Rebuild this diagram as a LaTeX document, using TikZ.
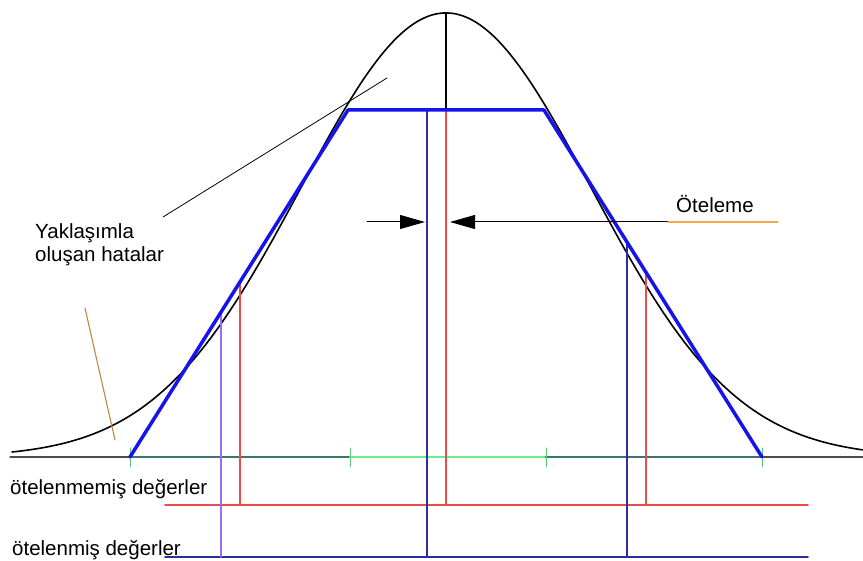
\documentclass[tikz,border=0pt]{standalone}
\usepackage{fontspec}
\setmainfont{Liberation Sans}
\usetikzlibrary{arrows.meta}
\usepackage{xcolor}
\definecolor{trapblue}{RGB}{20,20,235}
\definecolor{navyline}{RGB}{45,45,155}
\definecolor{redline}{RGB}{235,75,75}
\definecolor{violetline}{RGB}{150,110,250}
\definecolor{tealline}{RGB}{60,115,115}
\definecolor{greenline}{RGB}{110,235,140}
\definecolor{brownline}{RGB}{190,135,70}
\definecolor{orangeline}{RGB}{240,170,80}

\begin{document}
\begin{tikzpicture}[x=1pt,y=-1pt,>={Triangle[length=25pt,width=14pt]},font=\fontsize{20.5}{24}\selectfont,line cap=round,
  lbl/.style={inner sep=0pt,anchor=base west},
  tick/.style={greenline!85!black,line width=1pt}]
\useasboundingbox (0,0) rectangle (863,561);
\coordinate (L0) at (130,457);
\coordinate (L1) at (348,110);
\coordinate (R1) at (544,110);
\coordinate (R0) at (762,457);
\coordinate (top) at (446,13);
\coordinate (mid) at (446,110);
\draw[gray!60!black,line width=1.3pt] (10,457) -- (863,457);
\draw[tealline,line width=2.6pt] (L0) -- (350,457);
\draw[greenline,line width=2.6pt] (350,457) -- (546,457);
\draw[tealline,line width=2.6pt] (546,457) -- (R0);
\draw[tick] (130,448) -- (130,467);
\draw[tick] (350,448) -- (350,467);
\draw[tick] (546,448) -- (546,467);
\draw[tick] (762,448) -- (762,467);
\draw[black,line width=1.6pt] plot[domain=12:863,samples=220,smooth] (\x,{457-444*exp(-0.5*(((\x-446)/145)^2))});
\draw[redline,line width=1.6pt] (165,505) -- (808,505);
\draw[navyline,line width=1.6pt] (165,557) -- (808,557);
\draw[violetline,line width=1.2pt] (221,312) -- (221,557);
\draw[redline,line width=1.2pt] (240,282) -- (240,505);
\draw[navyline,line width=1.2pt] (427,110) -- (427,557);
\draw[redline,line width=1.2pt] (mid) -- (446,505);
\draw[navyline,line width=1.2pt] (627,242) -- (627,557);
\draw[redline,line width=1.2pt] (646,272) -- (646,505);
\draw[black,line width=1.2pt] (top) -- (mid);
\draw[trapblue,line width=3.5pt,line join=round] (L0) -- (L1) -- (R1) -- (R0);
\draw[black,line width=0.8pt] (163,217) -- (387,78);
\draw[brownline,line width=1.1pt] (85,308) -- (115,440);
\node[lbl] (err1) at (35,239) {Yaklaşımla};
\node[lbl] (err2) at (35,262) {oluşan hatalar};
\node[lbl] (shift) at (676,213) {Öteleme};
\node[lbl] (unshifted) at (10,495) {ötelenmemiş değerler};
\node[lbl] (shifted) at (12,555) {ötelenmiş değerler};
\coordinate (inL) at (367,222);
\coordinate (tipL) at (425,222);
\coordinate (tipR) at (450,222);
\coordinate (lineR) at (668,222);
\coordinate (endR) at (778,222);
\draw[->,black,line width=1pt] (inL) -- (tipL);
\draw[->,black,line width=1pt] (lineR) -- (tipR);
\draw[orangeline,line width=1.2pt] (lineR) -- (endR);
\end{tikzpicture}
\end{document}
